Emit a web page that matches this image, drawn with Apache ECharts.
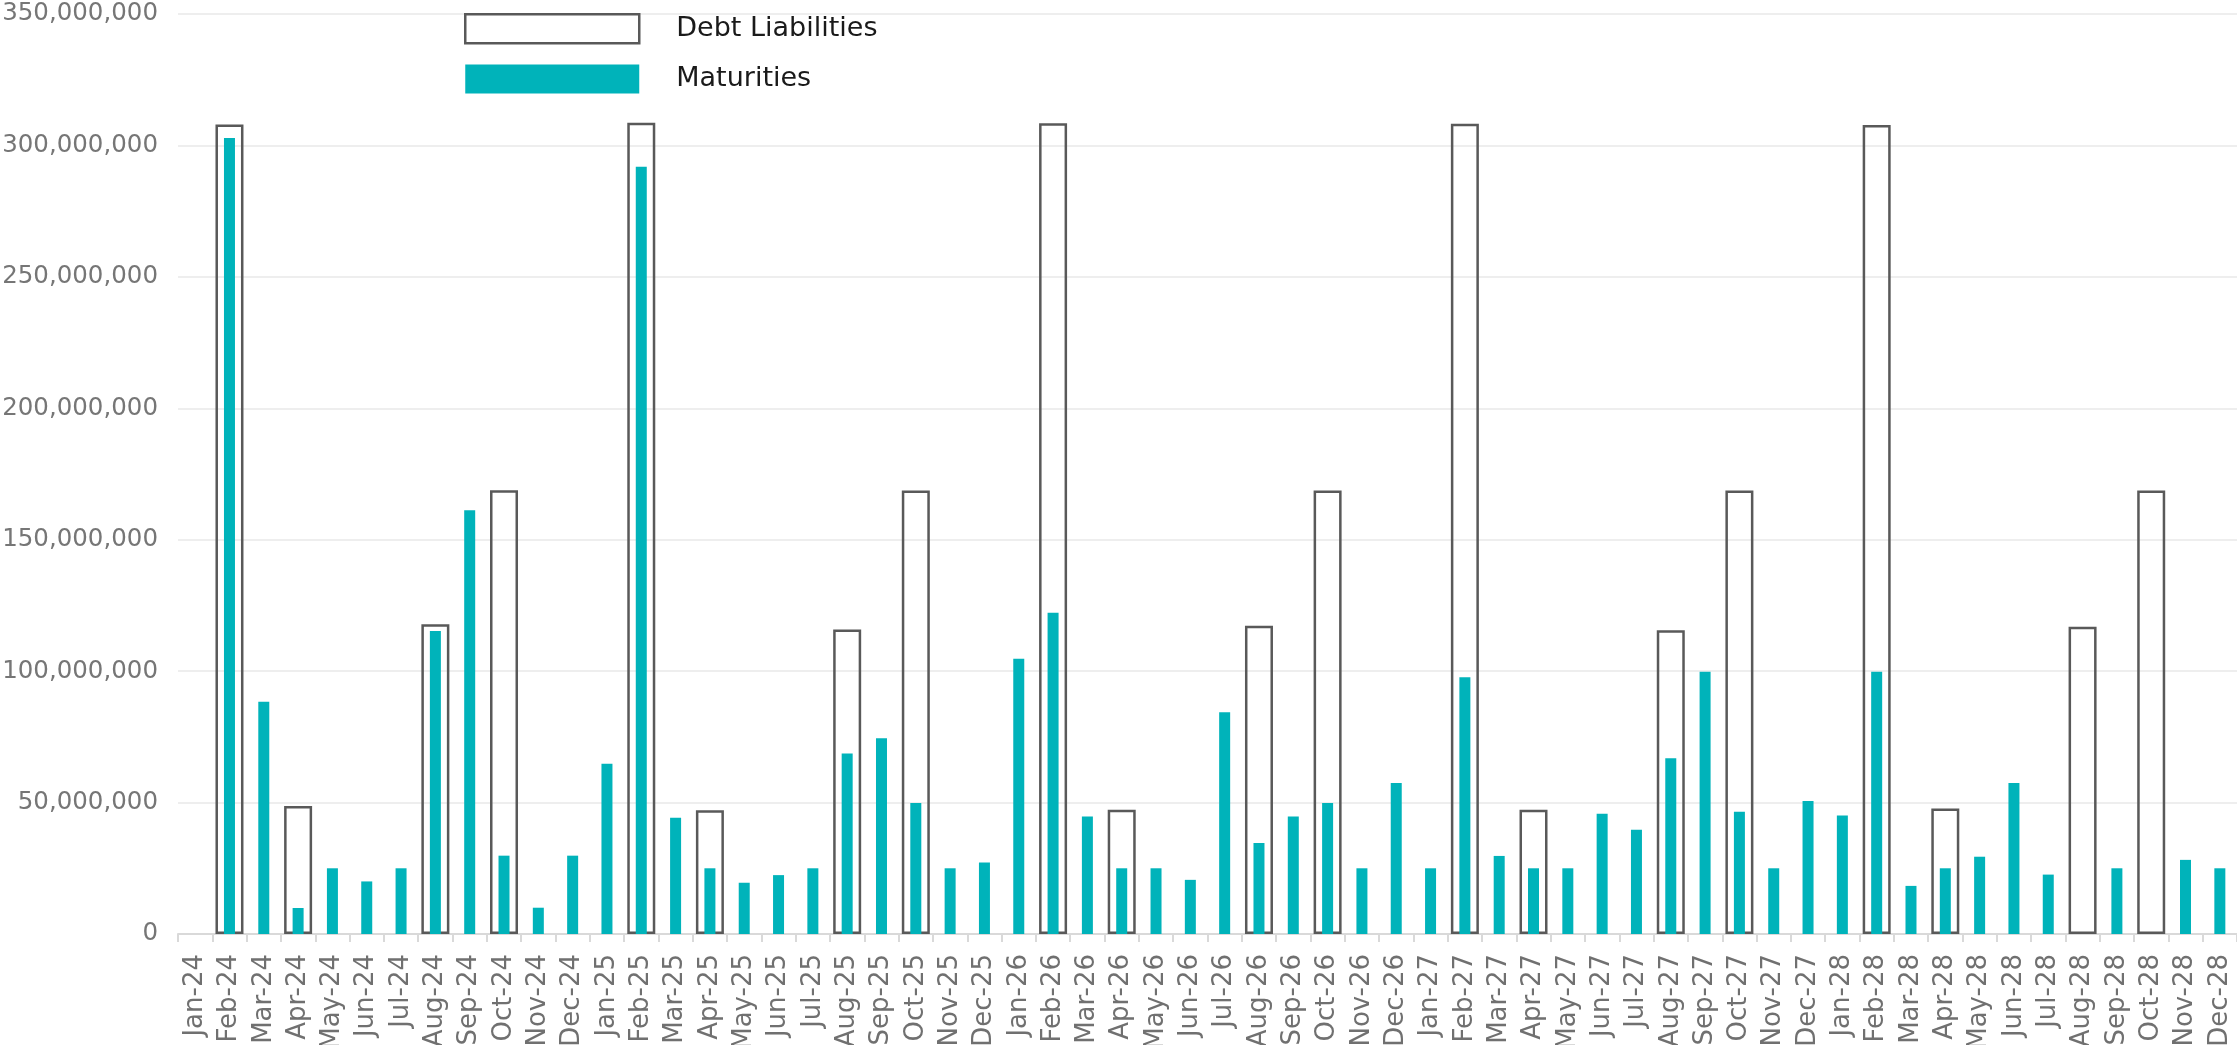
<!DOCTYPE html>
<html>
<head>
<meta charset="utf-8">
<title>Debt Liabilities and Maturities</title>
<script src="https://cdn.jsdelivr.net/npm/echarts@6/dist/echarts.min.js"></script>
<style>
  html, body { margin: 0; padding: 0; background: #ffffff; }
  #chart { width: 2237px; height: 1045px; }
</style>
</head>
<body>
<div id="chart"></div>
<script>
// Monthly schedule, Jan-24 .. Dec-28
const months = [
  'Jan-24','Feb-24','Mar-24','Apr-24','May-24','Jun-24','Jul-24','Aug-24','Sep-24','Oct-24','Nov-24','Dec-24',
  'Jan-25','Feb-25','Mar-25','Apr-25','May-25','Jun-25','Jul-25','Aug-25','Sep-25','Oct-25','Nov-25','Dec-25',
  'Jan-26','Feb-26','Mar-26','Apr-26','May-26','Jun-26','Jul-26','Aug-26','Sep-26','Oct-26','Nov-26','Dec-26',
  'Jan-27','Feb-27','Mar-27','Apr-27','May-27','Jun-27','Jul-27','Aug-27','Sep-27','Oct-27','Nov-27','Dec-27',
  'Jan-28','Feb-28','Mar-28','Apr-28','May-28','Jun-28','Jul-28','Aug-28','Sep-28','Oct-28','Nov-28','Dec-28'
];

// Debt liabilities due per month (null = none)
const debtLiabilities = [
  null, 308000000, null, 48700000, null, null, null, 117800000, null, 168800000, null, null,
  null, 308600000, null, 47100000, null, null, null, 115800000, null, 168700000, null, null,
  null, 308400000, null, 47300000, null, null, null, 117300000, null, 168700000, null, null,
  null, 308200000, null, 47300000, null, null, null, 115600000, null, 168700000, null, null,
  null, 307800000, null, 47700000, null, null, null, 116900000, null, 168700000, null, null
];

// Maturities per month
const maturities = [
  null, 302800000, 88400000, 9900000, 25000000, 20000000, 25000000, 115300000, 161200000, 29800000, 10000000, 29800000,
  64800000, 291900000, 44200000, 25000000, 19500000, 22400000, 25000000, 68700000, 74500000, 49800000, 25000000, 27200000,
  104700000, 122200000, 44700000, 25000000, 25000000, 20600000, 84400000, 34600000, 44700000, 49800000, 25000000, 57400000,
  25000000, 97700000, 29700000, 25000000, 25000000, 45700000, 39700000, 66900000, 99800000, 46500000, 25000000, 50600000,
  45100000, 99800000, 18300000, 25000000, 29400000, 57400000, 22600000, null, 25000000, null, 28200000, 25000000
];

// Value axis ticks
const yMin = 0;
const yMax = 350000000;
const yStep = 50000000;

const chart = echarts.init(document.getElementById('chart'), null, { renderer: 'canvas' });

const outlineColor = '#595959';
const tealColor = '#00B3BA';

chart.setOption({
  animation: false,
  backgroundColor: '#ffffff',
  grid: { left: 178, right: 0, top: 14, bottom: 111, containLabel: false, outerBoundsMode: 'none' },
  legend: {
    orient: 'vertical',
    left: 464,
    top: 13,
    padding: 0,
    itemWidth: 174,
    itemHeight: 29,
    itemGap: 20,
    icon: 'rect',
    selectedMode: false,
    textStyle: {
      fontFamily: 'DejaVu Sans',
      fontSize: 27,
      color: '#1a1a1a',
      padding: [0, 0, 0, 32]
    },
    data: [
      { name: 'Debt Liabilities', itemStyle: { color: '#ffffff', borderColor: outlineColor, borderWidth: 2.5 } },
      { name: 'Maturities', itemStyle: { color: tealColor, borderWidth: 0 } }
    ]
  },
  xAxis: [
    {
      type: 'category',
      data: months,
      boundaryGap: true,
      axisLine: { show: true, lineStyle: { color: '#d9d9d9', width: 2 } },
      axisTick: { show: true, alignWithLabel: false, length: 8, lineStyle: { color: '#d9d9d9', width: 2 } },
      axisLabel: {
        interval: 0,
        rotate: 90,
        margin: 20,
        fontFamily: 'DejaVu Sans',
        fontSize: 26,
        color: '#707070'
      },
      splitLine: { show: false }
    },
    {
      type: 'category',
      data: months,
      show: false,
      position: 'bottom'
    }
  ],
  yAxis: {
    type: 'value',
    min: yMin,
    max: yMax,
    interval: yStep,
    axisLine: { show: false },
    axisTick: { show: false },
    axisLabel: {
      margin: 20,
      fontFamily: 'DejaVu Sans',
      fontSize: 24.5,
      color: '#767676',
      formatter: v => v.toLocaleString('en-US')
    },
    splitLine: { show: true, lineStyle: { color: '#e8e8e8', width: 1.5 } }
  },
  series: [
    {
      name: 'Debt Liabilities',
      type: 'bar',
      xAxisIndex: 0,
      barWidth: 28,
      data: debtLiabilities,
      itemStyle: { color: 'rgba(255,255,255,0)', borderColor: outlineColor, borderWidth: 2.5 },
      z: 2
    },
    {
      name: 'Maturities',
      type: 'bar',
      xAxisIndex: 1,
      barWidth: 11,
      data: maturities,
      itemStyle: { color: tealColor },
      z: 3
    }
  ]
});
</script>
</body>
</html>
